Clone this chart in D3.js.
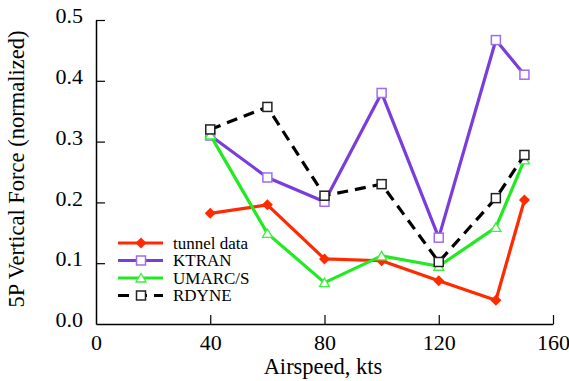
<!DOCTYPE html>
<html>
<head>
<meta charset="utf-8">
<script src="https://cdn.jsdelivr.net/npm/d3@7"></script>
<style>
  html, body { margin: 0; padding: 0; background: #fff; }
  svg text { font-family: "Liberation Serif", "Times New Roman", Times, serif !important; fill: #000; }
</style>
</head>
<body>
<svg id="chart" width="569" height="381"></svg>
<script>
// Airspeed (kts) for each measurement
const speeds = [40, 60, 80, 100, 120, 140, 150];

// 5P vertical force, normalized
const tunnelData = [0.182, 0.196, 0.107, 0.104, 0.071, 0.039, 0.204];
const ktran      = [0.310, 0.241, 0.201, 0.380, 0.142, 0.467, 0.410];
const umarcs     = [0.311, 0.149, 0.068, 0.112, 0.095, 0.159, 0.270];
const rdyne      = [0.320, 0.357, 0.211, 0.230, 0.102, 0.207, 0.278];

const xTicks = [0, 40, 80, 120, 160];
const yTicks = [0, 0.1, 0.2, 0.3, 0.4, 0.5];

const seriesNames = ["tunnel data", "KTRAN", "UMARC/S", "RDYNE"];

const series = [
  { name: seriesNames[0], values: tunnelData, color: "#ff2a00", marker: "diamond", mstroke: "#ff2a00", dash: null },
  { name: seriesNames[1], values: ktran,      color: "#7a3ddc", marker: "square",  mstroke: "#9e6cf0", dash: null },
  { name: seriesNames[2], values: umarcs,     color: "#22ea22", marker: "triangle", mstroke: "#3cf03c", dash: null },
  { name: seriesNames[3], values: rdyne,      color: "#000000", marker: "square",  mstroke: "#222222", dash: "11,7" }
];

const svg = d3.select("#chart");
const x = d3.scaleLinear().domain([0, 160]).range([96, 553]);
const y = d3.scaleLinear().domain([0, 0.5]).range([324, 20]);

// Axes: ticks point inward
const xAxis = d3.axisBottom(x).tickValues(xTicks).tickSize(-9).tickSizeOuter(0).tickPadding(26)
  .tickFormat(d3.format("d"));
const yAxis = d3.axisLeft(y).tickValues(yTicks).tickSize(-9).tickSizeOuter(0).tickPadding(13)
  .tickFormat(d3.format(".1f"));

const gx = svg.append("g").attr("transform", `translate(0,${y(0)})`).call(xAxis);
const gy = svg.append("g").attr("transform", `translate(${x(0)},0)`).call(yAxis);

[gx, gy].forEach(g => {
  g.attr("font-family", null);
  g.select(".domain").attr("stroke", "#000").attr("stroke-width", 1.5);
  g.selectAll(".tick line").attr("stroke", "#000").attr("stroke-width", 1.2);
  g.selectAll(".tick text").attr("font-size", 22);
});
gx.selectAll(".tick").filter(d => d === 0).select("line").remove();
gy.selectAll(".tick").filter(d => d === 0).select("line").remove();
gy.selectAll(".tick text").attr("dy", "0.12em");
gx.selectAll(".tick text").attr("dy", "0");

// Axis titles
svg.append("text")
  .attr("x", 323).attr("y", 374)
  .attr("text-anchor", "middle").attr("font-size", 22.5)
  .text("Airspeed, kts");
svg.append("text")
  .attr("transform", "translate(24,169) rotate(-90)")
  .attr("text-anchor", "middle").attr("font-size", 22.5)
  .text("5P Vertical Force (normalized)");

const line = d3.line().x((d, i) => x(speeds[i])).y(d => y(d));

function drawMarker(g, type, cx, cy, s) {
  if (type === "diamond") {
    g.append("path")
      .attr("d", `M${cx},${cy - 5.5}L${cx + 5.5},${cy}L${cx},${cy + 5.5}L${cx - 5.5},${cy}Z`)
      .attr("fill", s.color).attr("stroke", "none");
  } else if (type === "square") {
    g.append("rect")
      .attr("x", cx - 4.5).attr("y", cy - 4.5).attr("width", 9).attr("height", 9)
      .attr("fill", "#fff").attr("stroke", s.mstroke).attr("stroke-width", 1.5);
  } else if (type === "triangle") {
    g.append("path")
      .attr("d", `M${cx},${cy - 4.5}L${cx + 5},${cy + 4}L${cx - 5},${cy + 4}Z`)
      .attr("fill", "#fff").attr("stroke", s.mstroke).attr("stroke-width", 1.3);
  }
}

// Series lines and markers
series.forEach(s => {
  const g = svg.append("g");
  g.append("path")
    .attr("d", line(s.values))
    .attr("fill", "none")
    .attr("stroke", s.color)
    .attr("stroke-width", 3.2)
    .attr("stroke-linejoin", "round")
    .attr("stroke-dasharray", s.dash);
  s.values.forEach((v, i) => drawMarker(g, s.marker, x(speeds[i]), y(v), s));
});

// Legend
const legend = svg.append("g");
series.forEach((s, i) => {
  const ly = 243 + i * 17.5;
  legend.append("line")
    .attr("x1", 118).attr("x2", 163).attr("y1", ly).attr("y2", ly)
    .attr("stroke", s.color).attr("stroke-width", 3.2)
    .attr("stroke-dasharray", s.dash);
  drawMarker(legend, s.marker, 141, ly, s);
  legend.append("text")
    .attr("x", 173).attr("y", ly).attr("dy", "0.33em")
    .attr("font-size", 17)
    .text(s.name);
});
</script>
</body>
</html>
